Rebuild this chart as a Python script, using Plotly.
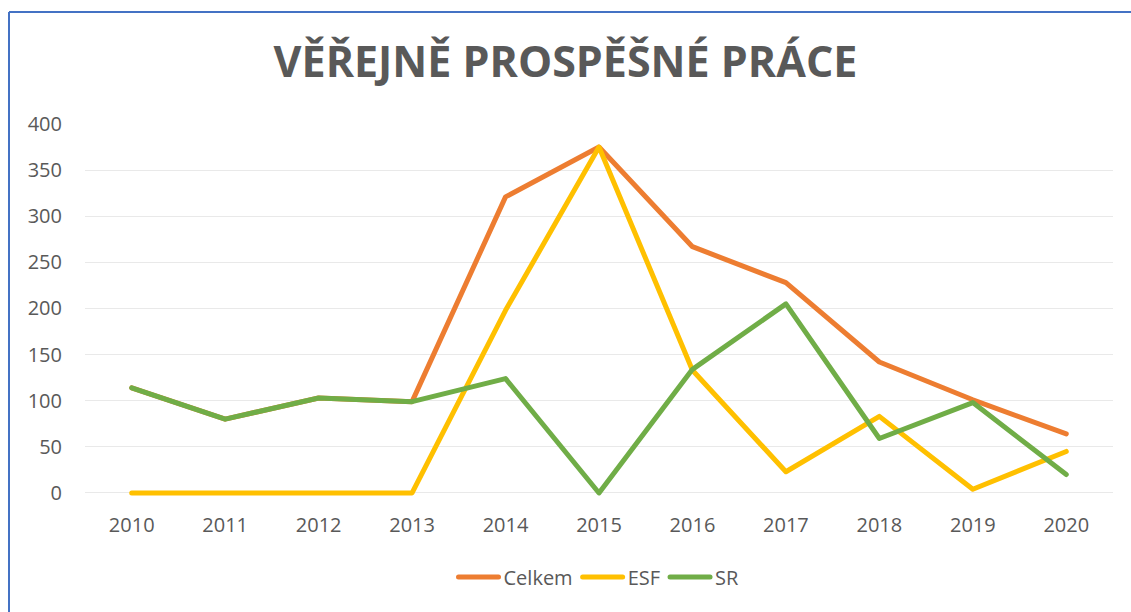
import plotly.graph_objects as go

years = ["2010", "2011", "2012", "2013", "2014", "2015", "2016", "2017", "2018", "2019", "2020"]
celkem = [114, 80, 103, 99, 321, 375, 267, 228, 142, 101, 64]
esf = [0, 0, 0, 0, 198, 375, 133, 23, 83, 4, 45]
sr = [114, 80, 103, 99, 124, 0, 134, 205, 59, 98, 20]

series = [("Celkem", celkem, "#ED7D31"), ("ESF", esf, "#FFC000"), ("SR", sr, "#70AD47")]

fig = go.Figure()
for name, vals, col in series:
    fig.add_trace(go.Scatter(x=years, y=vals, name=name, mode="lines",
                             line=dict(color=col, width=5)))

W, H = 1131, 612
L, R, T, B = 85, 18, 124, 116
pw, ph = W - L - R, H - T - B
ymin = -3.3
ppu = ph / (400 - ymin)

def px(x):
    return (x - L) / pw

def py(y):
    return (H - B - y) / ph

fig.update_layout(
    width=W, height=H,
    margin=dict(l=L, r=R, t=T, b=B),
    paper_bgcolor="white", plot_bgcolor="white",
    title=dict(text="<b>VĚŘEJNĚ PROSPĚŠNÉ PRÁCE</b>", x=0.5, xanchor="center",
               y=1 - 62 / H, yanchor="middle",
               font=dict(family="Open Sans", size=43, color="#595959")),
    font=dict(family="Open Sans", size=20, color="#595959"),
    xaxis=dict(type="category", range=[-0.5, 10.5], showgrid=False, zeroline=False,
               showline=False, ticks="outside", ticklen=11, tickcolor="white",
               tickfont=dict(size=20, color="#595959")),
    yaxis=dict(range=[ymin, 400], tickvals=list(range(0, 401, 50)), showgrid=True,
               gridcolor="#E9E9E9", gridwidth=1.3,
               zeroline=False, showline=False, ticks="outside", ticklen=18, tickcolor="white",
               tickfont=dict(size=20, color="#595959")),
    legend=dict(orientation="h", x=0.5, xanchor="center", y=py(577), yanchor="middle",
                font=dict(size=20, color="#595959"), itemwidth=40),
    showlegend=True,
    shapes=[
        dict(type="line", xref="paper", yref="paper", x0=px(9), x1=px(W + 5), y0=py(12), y1=py(12),
             line=dict(color="#4472C4", width=2)),
        dict(type="line", xref="paper", yref="paper", x0=px(9), x1=px(9), y0=py(12), y1=py(H + 5),
             line=dict(color="#4472C4", width=2)),
    ],
)

fig.write_html("out.html", config={"displayModeBar": False},
               post_script="document.body.style.margin='0';document.body.style.padding='0';"
                           "document.querySelectorAll('.scatterlayer path.js-line, .legendlines path')"
                           ".forEach(function(p){p.style.strokeLinecap='round';p.style.strokeLinejoin='round';});")
